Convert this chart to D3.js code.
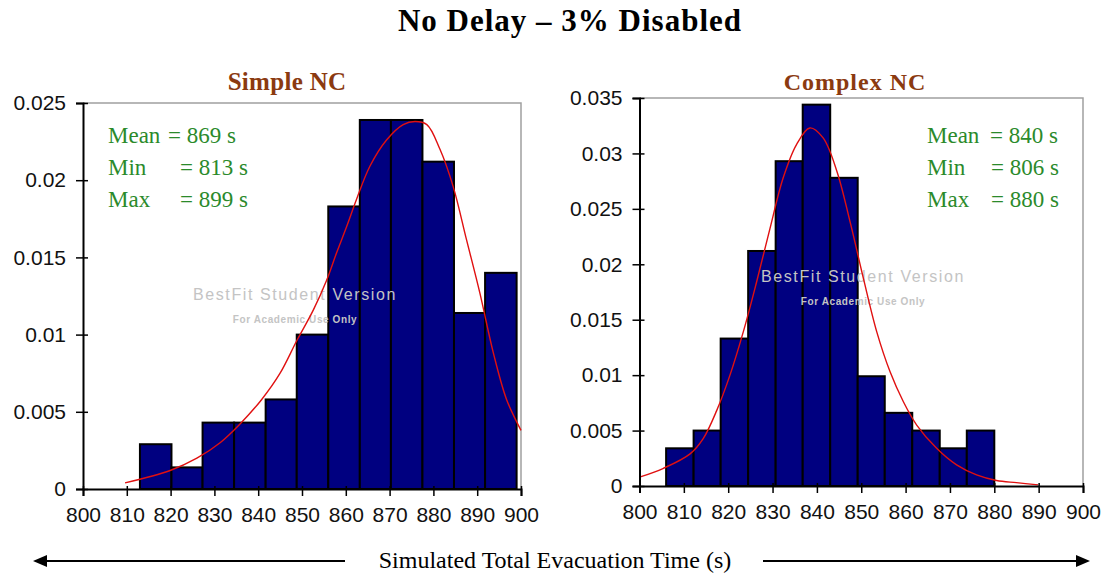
<!DOCTYPE html>
<html>
<head>
<meta charset="utf-8">
<script src="https://cdn.jsdelivr.net/npm/d3@7"></script>
<style>
  body { margin: 0; background: #fff; }
  svg { display: block; }
</style>
</head>
<body>
<div id="chart"></div>
<script>
// histogram bin edges (s) and densities
var simpleEdges = [813, 820.2, 827.3, 834.5, 841.7, 848.8, 856, 863.2, 870.3, 877.5, 884.7, 891.8, 899];
var simpleDensity = [0.0029, 0.0014, 0.0043, 0.0043, 0.0058, 0.0100, 0.0183, 0.0239, 0.0239, 0.0212, 0.0114, 0.0140];
var simpleFitX = [809.6, 819.9, 826, 831.3, 835.8, 840.8, 845, 848.8, 852.6, 855.6, 857.9, 860.2, 862.5, 865.5, 869.3, 873.1, 875.8, 878.5, 881.5, 884.5, 887.6, 890.6, 893.7, 896.7, 900];
var simpleFitY = [0.0004, 0.0012, 0.0020, 0.0030, 0.0042, 0.0058, 0.0075, 0.0096, 0.0116, 0.0135, 0.0153, 0.0170, 0.0188, 0.0209, 0.0226, 0.0236, 0.0238, 0.0236, 0.0220, 0.0196, 0.0161, 0.0127, 0.0088, 0.0058, 0.0038];

var complexEdges = [806, 812.2, 818.3, 824.5, 830.7, 836.8, 843, 849.2, 855.3, 861.5, 867.7, 873.8, 880];
var complexDensity = [0.0034, 0.0050, 0.0133, 0.0212, 0.0293, 0.0344, 0.0278, 0.0099, 0.0066, 0.0050, 0.0034, 0.0050];
var complexFitX = [800, 805.4, 811.4, 814.4, 817.4, 820.4, 823.4, 826.4, 829.4, 832.4, 835.4, 838.4, 841.4, 844.5, 847.5, 850.5, 853.5, 856.5, 859.5, 862.5, 867, 871.5, 876, 880.5, 885, 889.9];
var complexFitY = [0.0008, 0.0016, 0.0029, 0.0043, 0.0068, 0.0100, 0.0139, 0.0184, 0.0232, 0.0278, 0.0308, 0.0323, 0.0314, 0.0284, 0.0238, 0.0187, 0.0139, 0.0103, 0.0076, 0.0055, 0.0034, 0.0019, 0.0010, 0.0005, 0.0003, 0.0001];

var xTicks = [800, 810, 820, 830, 840, 850, 860, 870, 880, 890, 900];
var simpleYTicks = [0, 0.005, 0.01, 0.015, 0.02, 0.025];
var complexYTicks = [0, 0.005, 0.01, 0.015, 0.02, 0.025, 0.03, 0.035];

var statLabels = ["Mean", "Min", "Max"];
var simpleStats = ["= 869 s", "= 813 s", "= 899 s"];
var complexStats = ["= 840 s", "= 806 s", "= 880 s"];

var width = 1104, height = 576;
var sans = "'Liberation Sans', Arial, sans-serif";
var serif = "'Liberation Serif', 'Times New Roman', serif";

var svg = d3.select("#chart").append("svg")
	.attr("width", width)
	.attr("height", height);

svg.append("text")
	.attr("x", 570)
	.attr("y", 31)
	.attr("text-anchor", "middle")
	.style("font-family", serif)
	.style("font-weight", "bold")
	.style("font-size", "31px")
	.style("letter-spacing", "1px")
	.text("No Delay \u2013 3% Disabled");

function drawPanel(p){
	var x = d3.scaleLinear().domain([800, 900]).range([p.left, p.right]);
	var y = d3.scaleLinear().domain([0, p.yMax]).range([p.bottom, p.top]);
	var g = svg.append("g");

	// grey frame top / right
	g.append("path")
		.attr("d", "M" + p.left + "," + p.top + "H" + p.right + "V" + p.bottom)
		.attr("fill", "none")
		.attr("stroke", "#a0a0a0")
		.attr("stroke-width", 1.5);

	var bins = p.density.map(function(d, i){
		return {x0: p.edges[i], x1: p.edges[i + 1], v: d};
	});

	g.selectAll("rect.bar")
		.data(bins)
		.enter()
		.append("rect")
		.attr("class", "bar")
		.attr("x", function(d){ return x(d.x0); })
		.attr("y", function(d){ return y(d.v); })
		.attr("width", function(d){ return x(d.x1) - x(d.x0); })
		.attr("height", function(d){ return y(0) - y(d.v); })
		.attr("fill", "#000080")
		.attr("stroke", "#000")
		.attr("stroke-width", 2);

	// watermark
	g.append("text")
		.attr("x", p.wmX).attr("y", p.wmY)
		.attr("text-anchor", "middle")
		.style("font-family", sans)
		.style("font-size", "16px")
		.style("letter-spacing", "1.6px")
		.attr("fill", "#c4c4c4")
		.text("BestFit Student Version");
	g.append("text")
		.attr("x", p.wmX).attr("y", p.wmY + 23)
		.attr("text-anchor", "middle")
		.style("font-family", sans)
		.style("font-size", "10px")
		.style("font-weight", "bold")
		.style("letter-spacing", "0.6px")
		.attr("fill", "#c4c4c4")
		.text("For Academic Use Only");

	var fit = p.fitX.map(function(d, i){ return [d, p.fitY[i]]; });
	var line = d3.line()
		.x(function(d){ return x(d[0]); })
		.y(function(d){ return y(d[1]); })
		.curve(d3.curveCatmullRom.alpha(0.5));
	g.append("path")
		.datum(fit)
		.attr("d", line)
		.attr("fill", "none")
		.attr("stroke", "#e01010")
		.attr("stroke-width", 1.4);

	var yAxis = g.append("g")
		.attr("transform", "translate(" + p.left + ",0)")
		.call(d3.axisLeft(y).tickValues(p.yTicks).tickSize(7).tickPadding(10)
			.tickFormat(function(d){ return String(d); }));
	yAxis.selectAll(".tick line").attr("x1", 5);

	var xAxis = g.append("g")
		.attr("transform", "translate(0," + p.bottom + ")")
		.call(d3.axisBottom(x).tickValues(xTicks).tickSize(7).tickPadding(11));
	xAxis.selectAll(".tick line").attr("y1", -3);

	[yAxis, xAxis].forEach(function(a){
		a.select(".domain").attr("stroke", "#000").attr("stroke-width", 2);
		a.selectAll(".tick line").attr("stroke", "#000").attr("stroke-width", 1.5);
		a.selectAll(".tick text")
			.style("font-family", sans)
			.style("font-size", "21px")
			.attr("fill", "#111");
	});

	g.append("text")
		.attr("x", p.titleX).attr("y", 90)
		.attr("text-anchor", "middle")
		.style("font-family", serif)
		.style("font-weight", "bold")
		.style("font-size", p.titleSize)
		.style("letter-spacing", p.titleSpacing)
		.attr("fill", "#8b3a10")
		.text(p.title);

	var stats = g.selectAll("g.stat")
		.data(statLabels)
		.enter()
		.append("g")
		.attr("class", "stat");
	stats.append("text")
		.attr("x", p.statX)
		.attr("y", function(d, i){ return 143 + i * 32; })
		.style("font-family", serif)
		.style("font-size", "23px")
		.attr("fill", "#2b8a2b")
		.text(function(d){ return d; });
	stats.append("text")
		.attr("x", function(d, i){ return p.statX + p.eqOffset[i]; })
		.attr("y", function(d, i){ return 143 + i * 32; })
		.style("font-family", serif)
		.style("font-size", "23px")
		.attr("fill", "#2b8a2b")
		.text(function(d, i){ return p.stats[i]; });
}

drawPanel({
	left: 83, right: 521, top: 103, bottom: 489, yMax: 0.025,
	edges: simpleEdges, density: simpleDensity,
	fitX: simpleFitX, fitY: simpleFitY, yTicks: simpleYTicks,
	title: "Simple NC", titleX: 287, titleSize: "25px", titleSpacing: "0.3px",
	statX: 108, eqOffset: [60, 72, 72], stats: simpleStats, wmX: 295, wmY: 300
});

drawPanel({
	left: 639.5, right: 1083, top: 98, bottom: 486, yMax: 0.035,
	edges: complexEdges, density: complexDensity,
	fitX: complexFitX, fitY: complexFitY, yTicks: complexYTicks,
	title: "Complex NC", titleX: 855, titleSize: "24px", titleSpacing: "1px",
	statX: 927, eqOffset: [63, 64, 64], stats: complexStats, wmX: 863, wmY: 282
});

// bottom caption with arrows
var capY = 561;
svg.append("text")
	.attr("x", 555).attr("y", capY + 7)
	.attr("text-anchor", "middle")
	.style("font-family", serif)
	.style("font-size", "24px")
	.text("Simulated Total Evacuation Time (s)");

svg.append("line").attr("x1", 40).attr("x2", 345).attr("y1", capY).attr("y2", capY)
	.attr("stroke", "#000").attr("stroke-width", 2);
svg.append("path").attr("d", "M33," + capY + "l14,-6v12z").attr("fill", "#000");
svg.append("line").attr("x1", 763).attr("x2", 1082).attr("y1", capY).attr("y2", capY)
	.attr("stroke", "#000").attr("stroke-width", 2);
svg.append("path").attr("d", "M1090," + capY + "l-14,-6v12z").attr("fill", "#000");
</script>
</body>
</html>
